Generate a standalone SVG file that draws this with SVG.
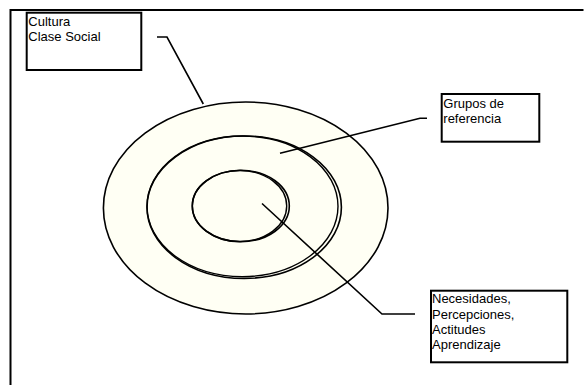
<svg xmlns="http://www.w3.org/2000/svg" width="584" height="385" viewBox="0 0 584 385">
<style>
.box{fill:#fff;stroke:#000;stroke-width:2}
.ell{fill:#FFFFF4;stroke:#000;stroke-width:1.6}
.ell2{fill:none;stroke:#000;stroke-width:1.4}
.lbl{font-family:"Liberation Sans",Arial,sans-serif;font-size:13px;fill:#000}
.con{fill:none;stroke:#000;stroke-width:1.6}
</style>
<rect width="584" height="385" fill="#fff"/>
<g id="frame">
<path d="M10.5 385 V10 H583.5" fill="none" stroke="#000" stroke-width="2"/>
</g>
<g id="rings">
<ellipse class="ell" cx="245.7" cy="208" rx="142.3" ry="106"/>
<ellipse class="ell" cx="244.2" cy="207.2" rx="97.2" ry="71.2"/>
<ellipse class="ell2" cx="242.5" cy="206.3" rx="95.5" ry="70.3"/>
<ellipse class="ell" cx="240.8" cy="206" rx="48.5" ry="35.7"/>
<ellipse class="ell2" cx="239.5" cy="206" rx="47.2" ry="35.5"/>
</g>
<g id="connectors">
<polyline class="con" points="157,37 167,37 203.3,104"/>
<polyline class="con" points="280,153.3 420,118.3 427,118.3"/>
<polyline class="con" points="262,203.5 382,314 415,314"/>
</g>
<g id="cultura">
<rect class="box" x="26.7" y="12.7" width="114.6" height="57.3"/>
<text class="lbl" x="28.3" y="26">Cultura</text>
<text class="lbl" x="28.3" y="40.7">Clase Social</text>
</g>
<g id="grupos">
<rect class="box" x="441.7" y="94" width="97.6" height="47.7"/>
<text class="lbl" x="443.3" y="108.3">Grupos de</text>
<text class="lbl" x="443.3" y="123.3">referencia</text>
</g>
<g id="necesidades">
<rect class="box" x="431" y="290.7" width="136.3" height="71.6"/>
<text class="lbl" x="432" y="303.3">Necesidades,</text>
<text class="lbl" x="432" y="318.5">Percepciones,</text>
<text class="lbl" x="432" y="334">Actitudes</text>
<text class="lbl" x="432" y="349">Aprendizaje</text>
</g>
</svg>
